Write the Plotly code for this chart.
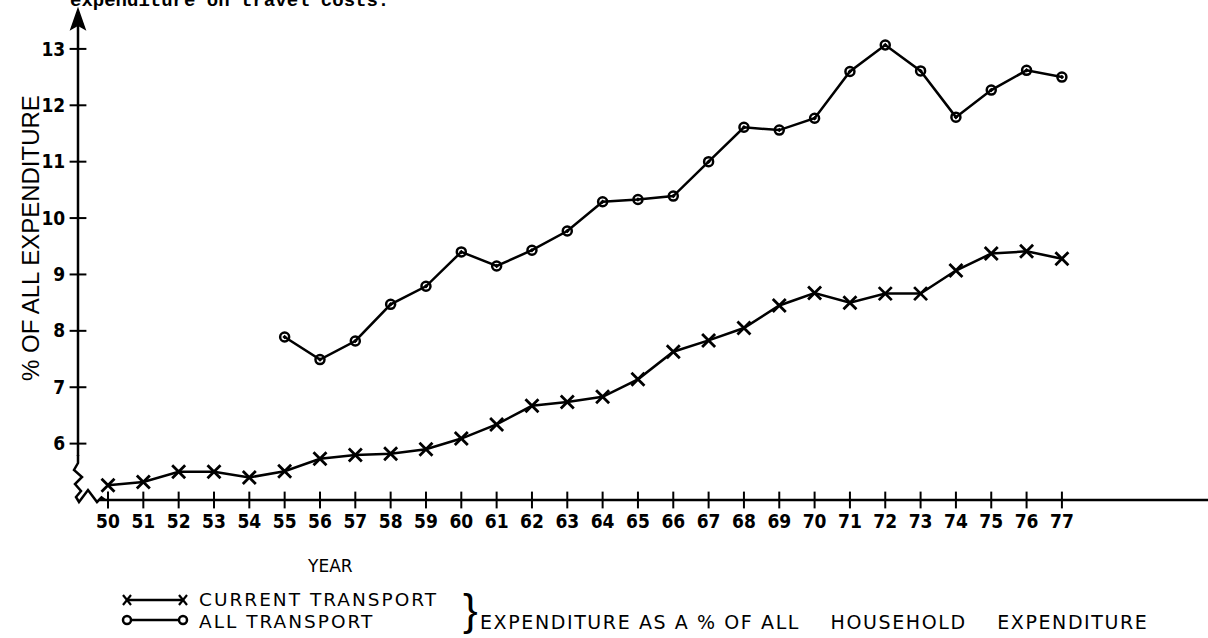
import plotly.graph_objects as go

# ---------------- data ----------------
years = list(range(50, 78))
year_labels = [str(y) for y in years]
current_transport = [5.26, 5.32, 5.50, 5.50, 5.40, 5.51, 5.73, 5.80, 5.82, 5.90,
                     6.09, 6.34, 6.67, 6.74, 6.83, 7.14, 7.63, 7.83, 8.05, 8.45,
                     8.67, 8.50, 8.66, 8.66, 9.07, 9.37, 9.41, 9.28]
all_years = list(range(55, 78))
all_transport = [7.89, 7.49, 7.82, 8.47, 8.79, 9.40, 9.15, 9.43, 9.77, 10.29,
                 10.33, 10.39, 11.00, 11.61, 11.56, 11.77, 12.60, 13.07, 12.61,
                 11.79, 12.27, 12.62, 12.50]
y_ticks = [6, 7, 8, 9, 10, 11, 12, 13]
y_tick_labels = [str(v) for v in y_ticks]

series_names = ["CURRENT TRANSPORT", "ALL TRANSPORT"]
x_title = "YEAR"
y_title = "% OF ALL EXPENDITURE"
NB = "\u00a0"
note = "EXPENDITURE AS A % OF ALL" + NB * 4 + "HOUSEHOLD" + NB * 4 + "EXPENDITURE"
top_text = "expenditure on travel costs."

# ---------------- layout geometry ----------------
W, H = 1208, 638
ML, MR, MT, MB = 78, 0, 10, 138
PW, PH = W - ML - MR, H - MT - MB
X_RANGE = [49.151, 81.135]
Y_RANGE = [5.0, 13.69]


def px(p):
    return (p - ML) / PW


def py(p):
    return (H - MB - p) / PH


def spaced(text, ls):
    return f'<span style="letter-spacing:{ls}px">{text}</span>'


NARROW = "Liberation Sans Narrow, DejaVu Sans Condensed, Roboto Condensed, Arial Narrow, Liberation Sans, sans-serif"
SANS = "Liberation Sans, Arial, Helvetica, sans-serif"
WIDE = "DejaVu Sans, Verdana, sans-serif"

fig = go.Figure()

# data lines
fig.add_trace(go.Scatter(
    x=years, y=current_transport, mode="lines+markers", name=series_names[0],
    line=dict(color="black", width=2.5),
    marker=dict(symbol="x-thin", size=13, line=dict(color="black", width=2.8)),
    cliponaxis=False, showlegend=False))
fig.add_trace(go.Scatter(
    x=all_years, y=all_transport, mode="lines+markers", name=series_names[1],
    line=dict(color="black", width=2.5),
    marker=dict(symbol="circle-open-dot", size=9, color="black", line=dict(color="black", width=2.5)),
    cliponaxis=False, showlegend=False))

# tick marks crossing the axes
fig.add_trace(go.Scatter(
    x=years, y=[Y_RANGE[0]] * len(years), mode="markers",
    marker=dict(symbol="line-ns", size=12, line=dict(color="black", width=2)),
    cliponaxis=False, showlegend=False, hoverinfo="skip"))
fig.add_trace(go.Scatter(
    x=[X_RANGE[0]] * len(y_ticks), y=y_ticks, mode="markers",
    marker=dict(symbol="line-ew", size=12, line=dict(color="black", width=2)),
    cliponaxis=False, showlegend=False, hoverinfo="skip"))

AX = 78  # y axis line position (px)
shapes = []
# y axis line
shapes.append(dict(type="line", xref="paper", yref="paper",
                   x0=px(AX), x1=px(AX), y0=py(456), y1=py(24),
                   line=dict(color="black", width=2.5)))
# arrow head
shapes.append(dict(type="path", xref="paper", yref="paper",
                   path=f"M {px(AX)},{py(9)} L {px(AX - 7)},{py(29)} L {px(AX)},{py(25)} L {px(AX + 7)},{py(29)} Z",
                   fillcolor="black", line=dict(color="black", width=1.5)))
# axis break squiggle
sq = [(AX, 455), (AX, 463), (AX - 4, 470), (AX + 4, 477), (AX - 3, 484), (AX + 3, 491),
      (AX - 2, 497), (AX + 1, 502), (AX + 10, 490), (AX + 19, 502), (AX + 23.5, 497.5), (AX + 27, 500)]
path = "M " + " L ".join(f"{px(a)},{py(b)}" for a, b in sq)
shapes.append(dict(type="path", xref="paper", yref="paper", path=path,
                   line=dict(color="black", width=2.5)))
# x axis line
shapes.append(dict(type="line", xref="paper", yref="paper",
                   x0=px(AX + 22), x1=1, y0=0, y1=0,
                   line=dict(color="black", width=2.5)))

# legend samples
for row_y, sym in [(600, "x"), (620, "o")]:
    shapes.append(dict(type="line", xref="paper", yref="paper",
                       x0=px(127), x1=px(183), y0=py(row_y), y1=py(row_y),
                       line=dict(color="black", width=2.5)))
    for cx in (127, 183):
        if sym == "x":
            shapes.append(dict(type="line", xref="paper", yref="paper",
                               x0=px(cx - 4), x1=px(cx + 4), y0=py(row_y - 5), y1=py(row_y + 5),
                               line=dict(color="black", width=2.2)))
            shapes.append(dict(type="line", xref="paper", yref="paper",
                               x0=px(cx - 4), x1=px(cx + 4), y0=py(row_y + 5), y1=py(row_y - 5),
                               line=dict(color="black", width=2.2)))
        else:
            shapes.append(dict(type="circle", xref="paper", yref="paper",
                               x0=px(cx - 4), x1=px(cx + 4), y0=py(row_y - 4), y1=py(row_y + 4),
                               fillcolor="white", line=dict(color="black", width=2.5)))

annotations = [
    dict(text=y_title, textangle=-90, xref="paper", yref="paper",
         x=px(30), y=py(238), xanchor="center", yanchor="middle", showarrow=False,
         font=dict(family=SANS, size=24, color="black")),
    dict(text=x_title, xref="paper", yref="paper", x=px(330), y=py(566),
         xanchor="center", yanchor="middle", showarrow=False,
         font=dict(family=WIDE, size=17, color="black")),
    dict(text=spaced(series_names[0], 2), xref="paper", yref="paper", x=px(197), y=py(599),
         xanchor="left", yanchor="middle", showarrow=False,
         font=dict(family=WIDE, size=18.5, color="black")),
    dict(text=spaced(series_names[1], 2), xref="paper", yref="paper", x=px(197), y=py(621),
         xanchor="left", yanchor="middle", showarrow=False,
         font=dict(family=WIDE, size=18.5, color="black")),
    dict(text="}", xref="paper", yref="paper", x=px(471), y=py(609),
         xanchor="center", yanchor="middle", showarrow=False,
         font=dict(family=SANS, size=44, color="black")),
    dict(text=spaced(note, 1.6), xref="paper", yref="paper", x=px(478), y=py(622),
         xanchor="left", yanchor="middle", showarrow=False,
         font=dict(family=WIDE, size=19, color="black")),
    dict(text=top_text, xref="paper", yref="paper", x=px(68), y=py(0.5),
         xanchor="left", yanchor="middle", showarrow=False,
         font=dict(family="Liberation Mono, Courier New, monospace", size=19, color="black",
                   weight="bold")),
]

fig.update_layout(
    width=W, height=H,
    margin=dict(l=ML, r=MR, t=MT, b=MB, pad=0),
    paper_bgcolor="white", plot_bgcolor="white",
    shapes=shapes, annotations=annotations,
    xaxis=dict(range=X_RANGE, showgrid=False, zeroline=False, showline=False,
               tickmode="array", tickvals=years, ticktext=year_labels,
               ticks="outside", ticklen=4, tickcolor="rgba(0,0,0,0)",
               tickfont=dict(family=NARROW, size=19, color="black", weight="bold"),
               fixedrange=True),
    yaxis=dict(range=Y_RANGE, showgrid=False, zeroline=False, showline=False,
               tickmode="array", tickvals=y_ticks, ticktext=y_tick_labels,
               ticks="outside", ticklen=8, tickcolor="rgba(0,0,0,0)",
               tickfont=dict(family=NARROW, size=19, color="black", weight="bold"),
               fixedrange=True),
    showlegend=False,
)

fig.write_html("out.html", config={"displayModeBar": False},
               post_script="document.body.style.margin='0';document.body.style.overflow='hidden';")
